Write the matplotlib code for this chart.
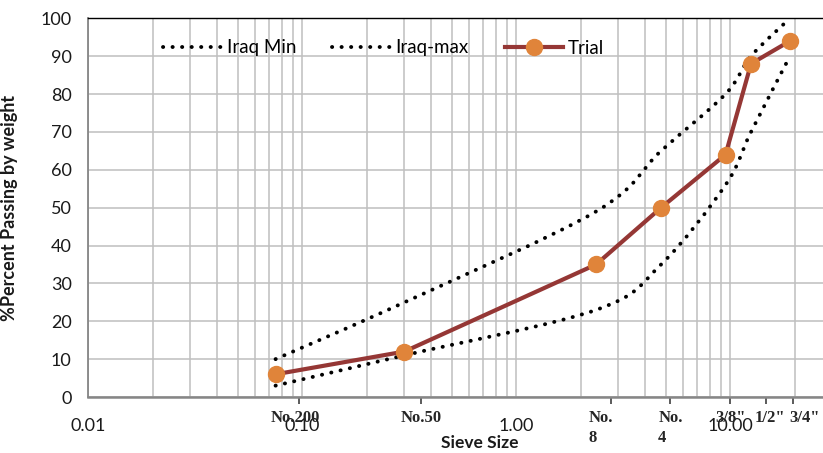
import numpy as np
import matplotlib
matplotlib.use('Agg')
import matplotlib.pyplot as plt
from matplotlib.path import Path
from matplotlib.patches import PathPatch
from matplotlib.lines import Line2D
from matplotlib.ticker import FixedLocator, LogLocator, NullFormatter


SIEVE_MM = [0.075, 0.3, 2.36, 4.75, 9.5, 12.5, 19.0]
IRAQ_MIN = [3, 11, 23, 35, 56, 70, 90]
IRAQ_MAX = [10, 25, 49, 65, 80, 90, 100]
TRIAL = [6, 12, 35, 50, 64, 88, 94]

MAJOR_TICKS = [0.01, 0.1, 1.0, 10.0]
MAJOR_LABELS = ['0.01', '0.10', '1.00', '10.00']
SIEVE_TICKS = [0.097, 0.36, 2.77, 5.25, 10.0, 14.7, 19.6]
SIEVE_LABELS = ['No.200', 'No.50', 'No.\n8', 'No.\n4', '3/8"', '1/2"', '3/4"']
# horizontal nudge of each sieve label from its tick, pixels
LABEL_NUDGE = [-4, 0, -10, 0, 0, 4, 12]

DOT_COLOR = 'black'
TRIAL_LINE = '#953735'
TRIAL_MARK = '#E0843A'
GRID = '#BFBFBF'
DOTS = (0, (0.05, 2.4))

plt.rcParams['font.family'] = ['Lato', 'DejaVu Sans']


def smooth_path(xs, ys):
    # excel-like smoothed line: cubic bezier through the points, built in log-x space
    u = np.log10(xs)
    pts = np.column_stack([u, ys]).astype(float)
    n = len(pts)
    verts = [pts[0]]
    codes = [Path.MOVETO]
    for i in range(n - 1):
        p0 = pts[max(i - 1, 0)]
        p1 = pts[i]
        p2 = pts[i + 1]
        p3 = pts[min(i + 2, n - 1)]
        c1 = p1 + (p2 - p0) / 6.0
        c2 = p2 - (p3 - p1) / 6.0
        verts += [c1, c2, p2]
        codes += [Path.CURVE4] * 3
    verts = np.array(verts)
    verts[:, 0] = 10 ** verts[:, 0]
    return Path(verts, codes)


fig = plt.figure(figsize=(8.23, 4.53), dpi=100)
ax = fig.add_axes([88.3 / 823, 56 / 453, 856 / 823, 378.7 / 453])
ax.set_xscale('log')
ax.set_xlim(0.01, 100)
ax.set_ylim(0, 100)

dot_style = dict(edgecolor=DOT_COLOR, facecolor='none', linewidth=2.8,
                 linestyle=DOTS, capstyle='round', zorder=3)
for vals in (IRAQ_MIN, IRAQ_MAX):
    patch = PathPatch(smooth_path(SIEVE_MM, vals), transform=ax.transData, **dot_style)
    patch.set_clip_on(False)
    ax.add_patch(patch)

ax.plot(SIEVE_MM, TRIAL, color=TRIAL_LINE, linewidth=3.0, marker='o',
        markersize=11.5, markerfacecolor=TRIAL_MARK, markeredgecolor=TRIAL_MARK,
        zorder=4, clip_on=False)

# grid
ax.xaxis.set_major_locator(FixedLocator(MAJOR_TICKS))
ax.xaxis.set_major_formatter(plt.FixedFormatter(MAJOR_LABELS))
ax.xaxis.set_minor_locator(LogLocator(base=10, subs=np.arange(2, 10)))
ax.xaxis.set_minor_formatter(NullFormatter())
ax.set_yticks(np.arange(0, 101, 10))
ax.grid(True, which='both', color=GRID, linewidth=1.1)
ax.set_axisbelow(True)
ax.tick_params(axis='x', which='both', length=0, pad=15, labelsize=13, labelcolor='#1a1a1a')
ax.tick_params(axis='y', length=0, pad=12, labelsize=13, labelcolor='#1a1a1a')

for side in ('left', 'bottom'):
    ax.spines[side].set_color('#868686')
ax.spines['left'].set_linewidth(1.3)
ax.spines['bottom'].set_linewidth(1.8)
ax.spines['top'].set_color('black')
ax.spines['top'].set_linewidth(1.0)
ax.spines['right'].set_visible(False)

# sieve ticks (second category axis in the original sheet)
sec = ax.secondary_xaxis('bottom')
sec.set_xticks(SIEVE_TICKS)
sec.set_xticklabels([''] * len(SIEVE_TICKS))
sec.tick_params(axis='x', length=5, width=1.2, color='#404040')
sec.xaxis.set_minor_locator(plt.NullLocator())
sec.spines['bottom'].set_visible(False)

for x, lab, dx in zip(SIEVE_TICKS, SIEVE_LABELS, LABEL_NUDGE):
    ax.annotate(lab, xy=(x, 0), xycoords=('data', 'axes fraction'),
                xytext=(dx, -13), textcoords='offset pixels', ha='center', va='top',
                multialignment='left', linespacing=1.3, fontsize=12,
                family='Liberation Serif', fontweight='bold', color='#262626',
                annotation_clip=False)

ax.set_ylabel('%Percent Passing by weight', fontsize=13, fontweight='bold', color='#1a1a1a')
ax.yaxis.set_label_coords(-(88.3 - 18) / 856, 0.5)
fig.text(480 / 823, 1 - 443 / 453, 'Sieve Size', ha='center', va='center',
         fontsize=12.5, fontweight='bold', color='#1a1a1a')

handles = [
    Line2D([], [], color=DOT_COLOR, linewidth=2.8, linestyle=DOTS, dash_capstyle='round'),
    Line2D([], [], color=DOT_COLOR, linewidth=2.8, linestyle=DOTS, dash_capstyle='round'),
    Line2D([], [], color=TRIAL_LINE, linewidth=3.0, marker='o', markersize=11.5,
           markerfacecolor=TRIAL_MARK, markeredgecolor=TRIAL_MARK),
]
ax.legend(handles, ['Iraq Min', 'Iraq-max', 'Trial'], ncol=3, frameon=False,
          loc='center left', bbox_to_anchor=(163 / 823, 1 - 48 / 453),
          bbox_transform=fig.transFigure, fontsize=13.5, handlelength=3.1,
          handletextpad=0.3, columnspacing=1.9, borderpad=0, borderaxespad=0)

fig.savefig('out.png', dpi=100)
